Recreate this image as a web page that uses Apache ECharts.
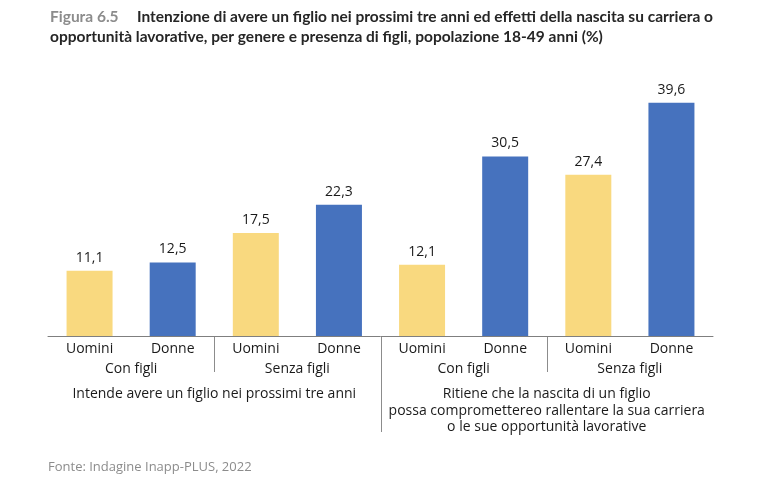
<!DOCTYPE html>
<html><head><meta charset="utf-8">
<script src="https://cdn.jsdelivr.net/npm/echarts@6/dist/echarts.min.js"></script>
<style>html,body{margin:0;padding:0;background:#fff}#c{width:767px;height:492px}</style>
</head><body><div id="c"></div>
<script>
const genders = ['Uomini','Donne','Uomini','Donne','Uomini','Donne','Uomini','Donne'];
const groups = ['Con figli','Senza figli','Con figli','Senza figli'];
const topics = ['Intende avere un figlio nei prossimi tre anni','Ritiene che la nascita di un figlio\npossa compromettereo rallentare la sua carriera\no le sue opportunità lavorative'];
const values = [11.1,12.5,17.5,22.3,12.1,30.5,27.4,39.6];
const colors = ['#F9D97F','#4672BE'];
const FONT = 'Open Sans';
const TFONT = 'Lato';
const chart = echarts.init(document.getElementById('c'));
const lbl = {color:'#1a1a1a', fontSize:14, fontFamily:FONT};
const titleG = [
  {type:'text',left:50,top:9,style:{text:'Figura 6.5',fill:'#8c8c8c',fontWeight:'bold',fontSize:15.5,fontFamily:TFONT}},
  {type:'text',left:137,top:9,style:{text:'Intenzione di avere un figlio nei prossimi tre anni ed effetti della nascita su carriera o',fill:'#262626',fontWeight:'bold',fontSize:15.5,fontFamily:TFONT}},
  {type:'text',left:50,top:29,style:{text:'opportunità lavorative, per genere e presenza di figli, popolazione 18-49 anni (%)',fill:'#262626',fontWeight:'bold',fontSize:15.5,fontFamily:TFONT}},
  {type:'text',left:48,top:461,style:{text:'Fonte: Indagine Inapp-PLUS, 2022',fill:'#8c8c8c',fontSize:13,fontFamily:FONT}}
];
chart.setOption({
  animation:false,
  grid:{left:48,right:54,top:71,bottom:156},
  xAxis:[
    {type:'category',data:genders,position:'bottom',
     axisLine:{lineStyle:{color:'#7f7f7f',width:1}},axisTick:{show:false},
     axisLabel:Object.assign({margin:6,interval:0},lbl)},
    {type:'category',data:groups,position:'bottom',offset:20,
     axisLine:{show:false},axisTick:{show:false},axisLabel:Object.assign({margin:6,interval:0},lbl)},
    {type:'category',data:topics,position:'bottom',offset:44,
     axisLine:{show:false},axisTick:{show:false},axisLabel:Object.assign({margin:6,interval:0,lineHeight:16.5,hideOverlap:false},lbl)}
  ],
  yAxis:{type:'value',min:0,max:45,show:false,splitLine:{show:false}},
  series:[{
    type:'bar',xAxisIndex:0,barWidth:46,
    data:values.map((v,i)=>({value:v,itemStyle:{color:colors[i%2]}})),
    label:{show:true,position:'top',distance:6,color:'#1a1a1a',fontSize:14,fontFamily:FONT,
      formatter:p=>p.value.toFixed(1).replace('.',',')}
  }],
  graphic:titleG
});
// separators at category boundaries computed from the axis scale
const y0 = chart.convertToPixel({yAxisIndex:0},0);
const seps = [[1,2,36],[3,4,96],[5,6,36]];
const g = seps.map(([a,b,len])=>{
  const x=(chart.convertToPixel({xAxisIndex:0},a)+chart.convertToPixel({xAxisIndex:0},b))/2;
  return {type:'line',shape:{x1:Math.round(x)+0.5,y1:y0,x2:Math.round(x)+0.5,y2:y0+len},style:{stroke:'#8c8c8c',lineWidth:1}};
});
chart.setOption({graphic:titleG.concat(g)});
</script></body></html>
